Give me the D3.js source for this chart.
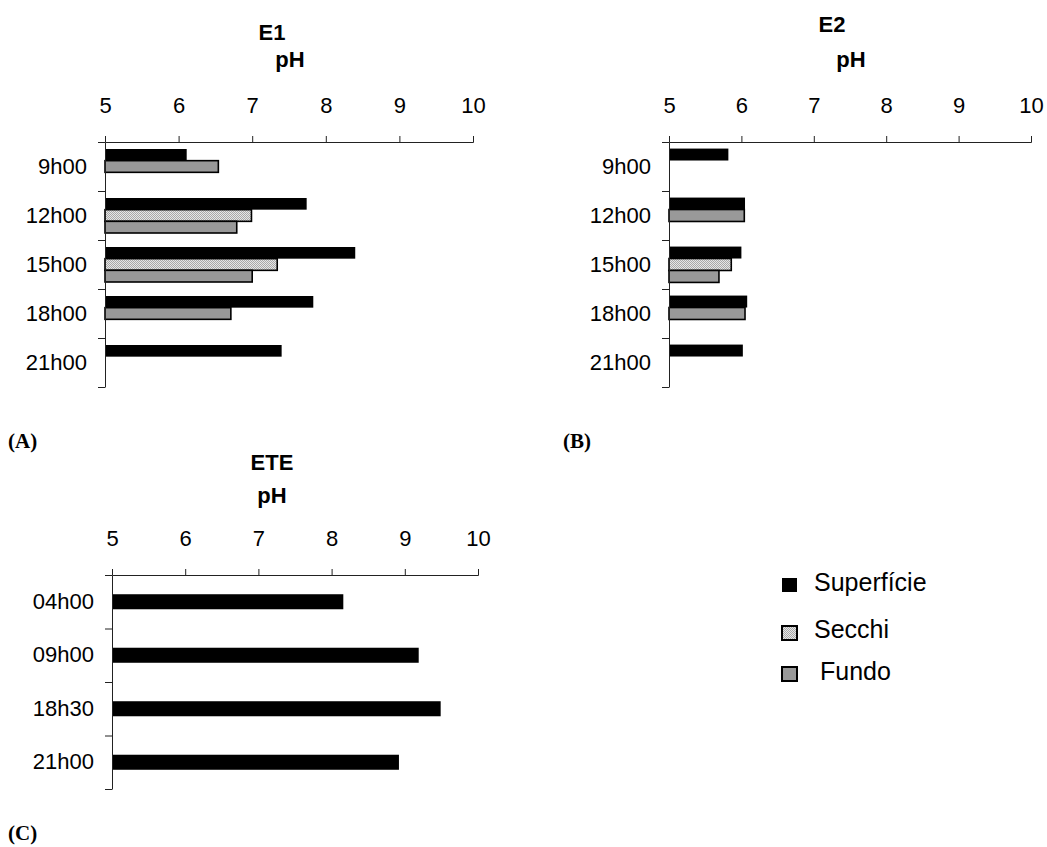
<!DOCTYPE html>
<html>
<head>
<meta charset="utf-8">
<script src="https://cdn.jsdelivr.net/npm/d3@7"></script>
<style>
  body { margin: 0; background: #fff; }
  text { font-family: "Liberation Sans", Arial, sans-serif; fill: #000; }
</style>
</head>
<body>
<svg id="chart" width="1047" height="847"></svg>
<script>
// ----- data -----
const phTicks = [5, 6, 7, 8, 9, 10];
const seriesNames = ["Superfície", "Secchi", "Fundo"];

const e1Times = ["9h00", "12h00", "15h00", "18h00", "21h00"];
const e1Superficie = [6.11, 7.74, 8.40, 7.83, 7.40];
const e1Secchi = [null, 6.99, 7.34, null, null];
const e1Fundo = [6.54, 6.79, 7.00, 6.71, null];

const e2Times = ["9h00", "12h00", "15h00", "18h00", "21h00"];
const e2Superficie = [5.82, 6.05, 6.00, 6.08, 6.02];
const e2Secchi = [null, null, 5.86, null, null];
const e2Fundo = [null, 6.04, 5.69, 6.05, null];

const eteTimes = ["04h00", "09h00", "18h30", "21h00"];
const eteSuperficie = [8.16, 9.19, 9.49, 8.92];

const svg = d3.select("#chart");

// pattern for the Secchi bars
const defs = svg.append("defs");
const pat = defs.append("pattern")
    .attr("id", "dots")
    .attr("width", 2).attr("height", 2)
    .attr("patternUnits", "userSpaceOnUse");
pat.append("rect").attr("width", 2).attr("height", 2).attr("fill", "#e6e6e6");
pat.append("rect").attr("width", 1).attr("height", 1).attr("fill", "#a8a8a8");
pat.append("rect").attr("x", 1).attr("y", 1).attr("width", 1).attr("height", 1).attr("fill", "#a8a8a8");

const fills = { "Superfície": "#000", "Secchi": "url(#dots)", "Fundo": "#999" };

function drawPanel(cfg) {
  const g = svg.append("g");
  const x = d3.scaleLinear().domain([5, 10]).range([cfg.x0, cfg.x1]);
  const y = d3.scaleBand().domain(cfg.times).range([cfg.top, cfg.bottom]);
  const slot = d3.scaleBand().domain(d3.range(cfg.slots))
      .range([0, y.bandwidth()]).paddingOuter(cfg.pad);

  // titles
  g.append("text").attr("x", cfg.titleX).attr("y", cfg.titleY)
      .attr("text-anchor", "middle").attr("font-size", 22).attr("font-weight", "bold")
      .text(cfg.title);
  g.append("text").attr("x", cfg.phX).attr("y", cfg.phY)
      .attr("text-anchor", "middle").attr("font-size", 22).attr("font-weight", "bold")
      .text("pH");

  // bars: present series stacked from the top of each group
  const rows = [];
  cfg.times.forEach((t, i) => {
    let k = 0;
    cfg.series.forEach(s => {
      const v = s.values[i];
      if (v == null) return;
      rows.push({ t, name: s.name, v, k: k++ });
    });
  });

  g.selectAll("rect.bar")
    .data(rows)
    .join("rect")
      .attr("class", "bar")
      .attr("x", x(5))
      .attr("y", d => y(d.t) + slot(d.k))
      .attr("width", d => x(d.v) - x(5))
      .attr("height", slot.bandwidth())
      .attr("fill", d => fills[d.name])
      .attr("stroke", "#000")
      .attr("stroke-width", d => d.name === "Superfície" ? 0 : 1.6);

  // top pH axis
  const ax = g.append("g").attr("transform", `translate(0,${cfg.top})`)
      .call(d3.axisTop(x).tickValues(phTicks).tickFormat(d3.format("d"))
        .tickSize(6).tickSizeOuter(6).tickPadding(23));
  ax.selectAll("text").attr("font-size", 22).attr("fill", "#000")
      .style("font-family", '"Liberation Sans", Arial, sans-serif');
  ax.selectAll("line,path").attr("stroke", "#222");

  // left axis: boundary ticks
  const yb = d3.scaleLinear().domain([0, cfg.times.length]).range([cfg.top, cfg.bottom]);
  const ay = g.append("g").attr("transform", `translate(${cfg.x0},0)`)
      .call(d3.axisLeft(yb).tickValues(d3.range(cfg.times.length + 1)).tickFormat("").tickSize(7).tickSizeOuter(0));
  ay.selectAll("line,path").attr("stroke", "#222");

  // category labels
  const al = g.append("g").attr("transform", `translate(${cfg.x0},0)`)
      .call(d3.axisLeft(y).tickSize(0).tickPadding(18));
  al.select(".domain").remove();
  al.selectAll("text").attr("font-size", 22).attr("fill", "#000")
      .style("font-family", '"Liberation Sans", Arial, sans-serif');

  g.append("text").attr("x", cfg.tagX).attr("y", cfg.tagY)
      .attr("font-size", 21).attr("font-weight", "bold")
      .style("font-family", '"Liberation Serif", "Times New Roman", serif')
      .text(cfg.tag);
}

drawPanel({
  title: "E1", titleX: 272, titleY: 40, phX: 290, phY: 67,
  times: e1Times, x0: 105, x1: 473, top: 142, bottom: 387, slots: 3, pad: 0.6,
  series: [
    { name: "Superfície", values: e1Superficie },
    { name: "Secchi", values: e1Secchi },
    { name: "Fundo", values: e1Fundo }
  ],
  tag: "(A)", tagX: 8, tagY: 448
});

drawPanel({
  title: "E2", titleX: 832, titleY: 32, phX: 851, phY: 67,
  times: e2Times, x0: 669, x1: 1031, top: 142, bottom: 387, slots: 3, pad: 0.55,
  series: [
    { name: "Superfície", values: e2Superficie },
    { name: "Secchi", values: e2Secchi },
    { name: "Fundo", values: e2Fundo }
  ],
  tag: "(B)", tagX: 563, tagY: 448
});

drawPanel({
  title: "ETE", titleX: 272, titleY: 470, phX: 272, phY: 503,
  times: eteTimes, x0: 112, x1: 478, top: 575, bottom: 789, slots: 1, pad: 1.28,
  series: [{ name: "Superfície", values: eteSuperficie }],
  tag: "(C)", tagX: 8, tagY: 840
});

// legend
const legendY = [578, 626, 667];
const legendTextX = [814, 814, 820];
const legendTextY = [591, 638, 680];
const lg = svg.append("g");
seriesNames.forEach((name, i) => {
  lg.append("rect")
    .attr("x", 782).attr("y", legendY[i])
    .attr("width", 15).attr("height", 14)
    .attr("fill", fills[name])
    .attr("stroke", "#000").attr("stroke-width", name === "Superfície" ? 0 : 2);
  lg.append("text")
    .attr("x", legendTextX[i]).attr("y", legendTextY[i])
    .attr("font-size", 25)
    .text(name);
});
</script>
</body>
</html>
